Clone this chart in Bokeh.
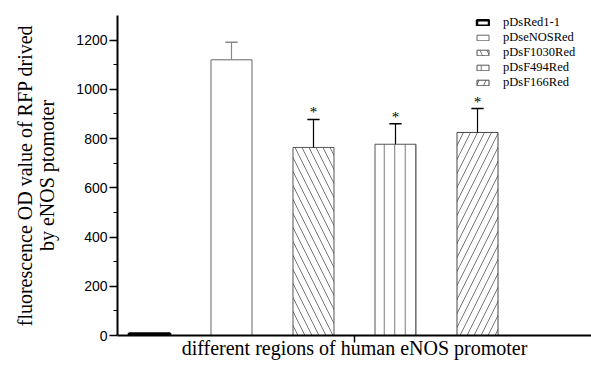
from bokeh.plotting import figure
from bokeh.models import (ColumnDataSource, Range1d, FixedTicker, Legend, LegendItem)
from bokeh.core.properties import value
from bokeh.embed import file_html
from bokeh.resources import INLINE

# ---- data ----
categories = ["pDsRed1-1", "pDseNOSRed", "pDsF1030Red", "pDsF494Red", "pDsF166Red"]
means = [8, 1120, 764, 777, 825]
errors = [0, 71, 114, 83, 97]
significant = [False, False, True, True, True]
y_ticks = [0, 200, 400, 600, 800, 1000, 1200]
y_minor = [100, 300, 500, 700, 900, 1100]

# ---- styles ----
hatches = [" ", " ", "\\", "|", "/"]
hatch_scales = [14, 14, 14, 10.5, 14]
outline_colors = ["black", "#666666", "#555555", "#555555", "#444444"]
outline_widths = [2.5, 1, 1, 1, 1]
err_colors = ["black", "#888888", "black", "black", "black"]

SERIF = "Liberation Serif"
SANS = "Liberation Sans"

xs = list(range(1, len(categories) + 1))
src = ColumnDataSource(dict(x=xs, top=means, cat=categories, hatch=hatches,
                            hscale=hatch_scales, lc=outline_colors, lw=outline_widths))

p = figure(width=591, height=365, x_range=Range1d(0.61, 6.39), y_range=Range1d(0, 1300),
           output_backend="svg", toolbar_location=None,
           min_border_left=117, min_border_right=0, min_border_top=15, min_border_bottom=30)
p.outline_line_color = None
p.xgrid.visible = False
p.ygrid.visible = False

bars = p.vbar(x="x", top="top", width=0.5, bottom=0, source=src, fill_color="white",
              line_color="lc", line_width="lw", hatch_pattern="hatch", hatch_scale="hscale",
              hatch_color="#777777", hatch_weight=1)

# error bars (upper only)
ex, elo, ehi, ec = [], [], [], []
for x, m, e, c in zip(xs, means, errors, err_colors):
    if e > 0:
        ex.append(x); elo.append(m); ehi.append(m + e); ec.append(c)
cap = 0.075
p.segment(x0=ex, y0=elo, x1=ex, y1=ehi, line_color=ec, line_width=1.2)
p.segment(x0=[x - cap for x in ex], y0=ehi, x1=[x + cap for x in ex], y1=ehi,
          line_color=ec, line_width=1.5)

# significance stars
sx = [x for x, s in zip(xs, significant) if s]
sy = [m + e for m, e, s in zip(means, errors, significant) if s]
p.text(x=sx, y=sy, text=["*"] * len(sx), text_align="center", text_baseline="middle",
       y_offset=-7, text_font=value(SERIF), text_font_size="15px", text_color="black")

# axes
yax = p.yaxis[0]
yax.ticker = FixedTicker(ticks=y_ticks, minor_ticks=y_minor)
yax.axis_line_width = 2
yax.axis_line_color = "black"
yax.major_tick_line_color = "black"
yax.minor_tick_line_color = "black"
yax.major_tick_out = 8
yax.major_tick_in = 0
yax.minor_tick_out = 4
yax.minor_tick_in = 0
yax.major_tick_line_width = 1.5
yax.major_label_standoff = 2
yax.major_label_text_font = SANS
yax.major_label_text_font_size = "14px"
yax.major_label_text_color = "black"
yax.axis_label = "fluorescence OD value of RFP drived\nby eNOS ptomoter"
yax.axis_label_text_font = SERIF
yax.axis_label_text_font_size = "20px"
yax.axis_label_text_font_style = "normal"
yax.axis_label_text_color = "black"
yax.axis_label_text_line_height = 1.0
yax.axis_label_standoff = 15

xax = p.xaxis[0]
xax.ticker = FixedTicker(ticks=[3.5], minor_ticks=[])
xax.axis_line_width = 2
xax.axis_line_color = "black"
xax.major_tick_line_color = "black"
xax.major_tick_out = 7
xax.major_tick_in = 0
xax.major_tick_line_width = 1.5
xax.major_label_overrides = {3.5: " "}
xax.major_label_text_font_size = "1px"
xax.major_label_standoff = 0
xax.axis_label = "different regions of human eNOS promoter"
xax.axis_label_text_font = SERIF
xax.axis_label_text_font_size = "20px"
xax.axis_label_text_font_style = "normal"
xax.axis_label_text_color = "black"
xax.axis_label_standoff = -10

legend = Legend(items=[LegendItem(label=c, renderers=[bars], index=i)
                       for i, c in enumerate(categories)],
                location=(358, 245), glyph_width=15, glyph_height=7, label_standoff=13,
                spacing=0, label_height=11, padding=0, margin=0,
                border_line_color=None, background_fill_alpha=0,
                label_text_font=SERIF, label_text_font_size="12.5px",
                label_text_color="black", label_text_line_height=0.9)
p.add_layout(legend)

open("out.html", "w").write(file_html(p, INLINE))
